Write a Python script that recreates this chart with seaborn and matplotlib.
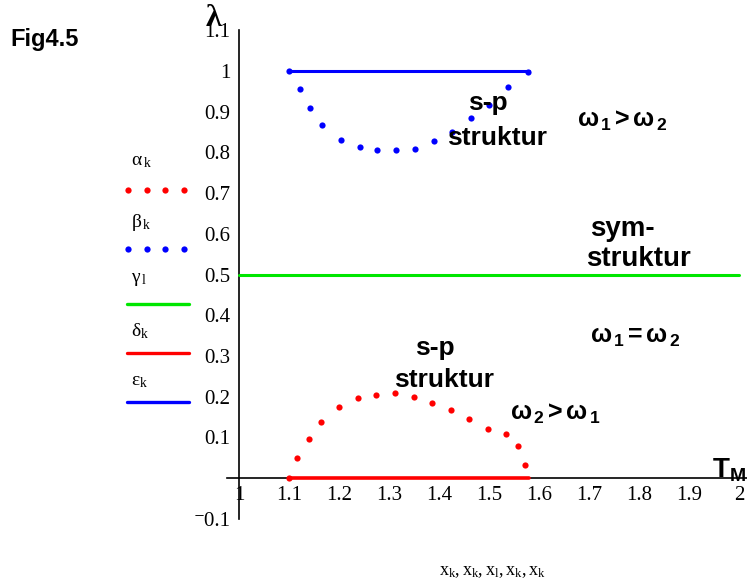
import matplotlib
matplotlib.use("Agg")
import matplotlib.pyplot as plt
from matplotlib.lines import Line2D
import seaborn as sns
import pandas as pd

# ---- data ----
alpha_x = [1.100, 1.115, 1.139, 1.163, 1.200, 1.237, 1.275, 1.312, 1.349,
           1.386, 1.423, 1.460, 1.498, 1.535, 1.558, 1.572]
alpha_y = [0.000, 0.050, 0.096, 0.138, 0.175, 0.196, 0.204, 0.209, 0.200,
           0.184, 0.166, 0.146, 0.121, 0.109, 0.079, 0.033]
beta_x = [1.100, 1.121, 1.141, 1.166, 1.203, 1.241, 1.277, 1.315, 1.352,
          1.389, 1.426, 1.463, 1.501, 1.538, 1.577]
beta_y = [1.000, 0.955, 0.909, 0.868, 0.830, 0.813, 0.805, 0.805, 0.809,
          0.827, 0.851, 0.885, 0.917, 0.961, 0.998]
gamma_x = [1.0, 2.0]
gamma_y = [0.5, 0.5]
delta_x = [1.1, 1.58]
delta_y = [0.0, 0.0]
eps_x = [1.1, 1.58]
eps_y = [1.0, 1.0]

x_ticks = [1.0, 1.1, 1.2, 1.3, 1.4, 1.5, 1.6, 1.7, 1.8, 1.9, 2.0]
x_labels = ["1", "1.1", "1.2", "1.3", "1.4", "1.5", "1.6", "1.7", "1.8", "1.9", "2"]
y_ticks = [-0.1, 0.0, 0.1, 0.2, 0.3, 0.4, 0.5, 0.6, 0.7, 0.8, 0.9, 1.0, 1.1]
y_labels = ["\u207b0.1", "", "0.1", "0.2", "0.3", "0.4", "0.5", "0.6", "0.7",
            "0.8", "0.9", "1", "1.1"]

RED = "#ff0000"
BLUE = "#0000ff"
GREEN = "#00e600"

sns.set_style("white")
plt.rcParams["font.family"] = ["Liberation Sans", "DejaVu Sans"]
plt.rcParams["text.color"] = "black"
plt.rcParams["mathtext.fontset"] = "custom"
plt.rcParams["mathtext.rm"] = "Liberation Serif"
plt.rcParams["mathtext.it"] = "Liberation Serif:italic"
plt.rcParams["mathtext.bf"] = "Liberation Sans:bold"

W, H = 747, 584
fig = plt.figure(figsize=(W / 100, H / 100), dpi=100)
fig.patch.set_facecolor("white")


def fx(p):
    return p / W


def fy(p):
    return 1 - p / H


ax = fig.add_axes([fx(226.5), fy(518.7), (747 - 226.5) / W, (518.7 - 30.3) / H])
ax.set_facecolor("white")

df_a = pd.DataFrame({"x": alpha_x, "y": alpha_y})
df_b = pd.DataFrame({"x": beta_x, "y": beta_y})
sns.lineplot(x=gamma_x, y=gamma_y, color=GREEN, linewidth=2.2, ax=ax, zorder=3)
sns.lineplot(x=delta_x, y=delta_y, color=RED, linewidth=2.6, ax=ax, zorder=4)
sns.lineplot(x=eps_x, y=eps_y, color=BLUE, linewidth=2.2, ax=ax, zorder=4)
sns.scatterplot(data=df_a, x="x", y="y", color=RED, s=20, linewidth=0, ax=ax, zorder=5)
sns.scatterplot(data=df_b, x="x", y="y", color=BLUE, s=20, linewidth=0, ax=ax, zorder=5)

ax.set_xlim(0.975, 2.016)
ax.set_ylim(-0.1, 1.1)
ax.set_xlabel("")
ax.set_ylabel("")

for s in ["top", "right"]:
    ax.spines[s].set_visible(False)
ax.spines["left"].set_position(("data", 1.0))
ax.spines["bottom"].set_position(("data", 0.0))
for s in ["left", "bottom"]:
    ax.spines[s].set_color("black")
    ax.spines[s].set_linewidth(1.2)
    ax.spines[s].set_zorder(2)

ax.set_xticks(x_ticks)
ax.set_xticklabels(x_labels)
ax.set_yticks(y_ticks)
ax.set_yticklabels(y_labels)
ax.tick_params(axis="both", direction="inout", length=10, width=1.1,
               colors="black", labelcolor="black", labelsize=15, pad=1)
for lab in ax.get_xticklabels() + ax.get_yticklabels():
    lab.set_fontfamily(["Liberation Serif", "DejaVu Serif"])
    lab.set_color("black")

# ---- legend (manual, Mathcad style) ----
leg_items = [
    (r"$\mathrm{\alpha}_{\,\mathrm{k}}$", 162, "dots", RED, 190),
    (r"$\mathrm{\beta}_{\,\mathrm{k}}$", 222, "dots", BLUE, 249),
    (r"$\mathrm{\gamma}_{\,\mathrm{l}}$", 280, "line", GREEN, 304),
    (r"$\mathrm{\delta}_{\mathrm{k}}$", 331, "line", RED, 353),
    (r"$\mathrm{\varepsilon}_{\mathrm{k}}$", 381, "line", BLUE, 402),
]
for lab, ly, kind, col, sy in leg_items:
    fig.text(fx(131), fy(ly), lab, fontsize=14, va="center", ha="left", color="black")
    if kind == "dots":
        fig.add_artist(Line2D([fx(128), fx(147), fx(165), fx(184)], [fy(sy)] * 4,
                              transform=fig.transFigure, linestyle="none",
                              marker="o", markersize=4.5, color=col,
                              markeredgewidth=0))
    else:
        fig.add_artist(Line2D([fx(127), fx(189)], [fy(sy)] * 2,
                              transform=fig.transFigure, color=col, linewidth=2.4))

# ---- annotations ----
fig.text(fx(10), fy(45.7), "Fig4.5", fontsize=17, fontweight="bold",
         ha="left", va="baseline", color="black")
fig.text(fx(214), fy(19), "\u03bb", fontsize=23, fontweight="bold",
         family=["Liberation Serif", "DejaVu Serif"], ha="center", va="center",
         color="black")

bold = dict(fontweight="bold", va="baseline", zorder=1, color="black")
fig.text(fx(488), fy(110), "s-p", fontsize=19, ha="center", **bold)
fig.text(fx(497), fy(145), "struktur", fontsize=19, ha="center", **bold)
fig.text(fx(622), fy(236), "sym-", fontsize=20, ha="center", **bold)
fig.text(fx(638), fy(266), "struktur", fontsize=20, ha="center", **bold)
fig.text(fx(435), fy(355), "s-p", fontsize=19, ha="center", **bold)
fig.text(fx(444), fy(387), "struktur", fontsize=19, ha="center", **bold)

om = dict(fontsize=18, ha="left", va="baseline", color="black")
fig.text(fx(577), fy(127), r"$\mathbf{\omega_{\,1}{>}\omega_{\,2}}$", **om)
fig.text(fx(590), fy(343), r"$\mathbf{\omega_{\,1}{=}\omega_{\,2}}$", **om)
fig.text(fx(510), fy(420), r"$\mathbf{\omega_{\,2}{>}\omega_{\,1}}$", **om)
fig.text(fx(712), fy(478), r"$\mathbf{T_M}$", fontsize=20, ha="left",
         va="baseline", color="black")

fig.text(fx(492), fy(572), r"$\mathrm{x_k, x_k, x_l, x_k, x_k}$", fontsize=13,
         ha="center", va="center", color="black")

fig.savefig("out.png", dpi=100, facecolor="white")
